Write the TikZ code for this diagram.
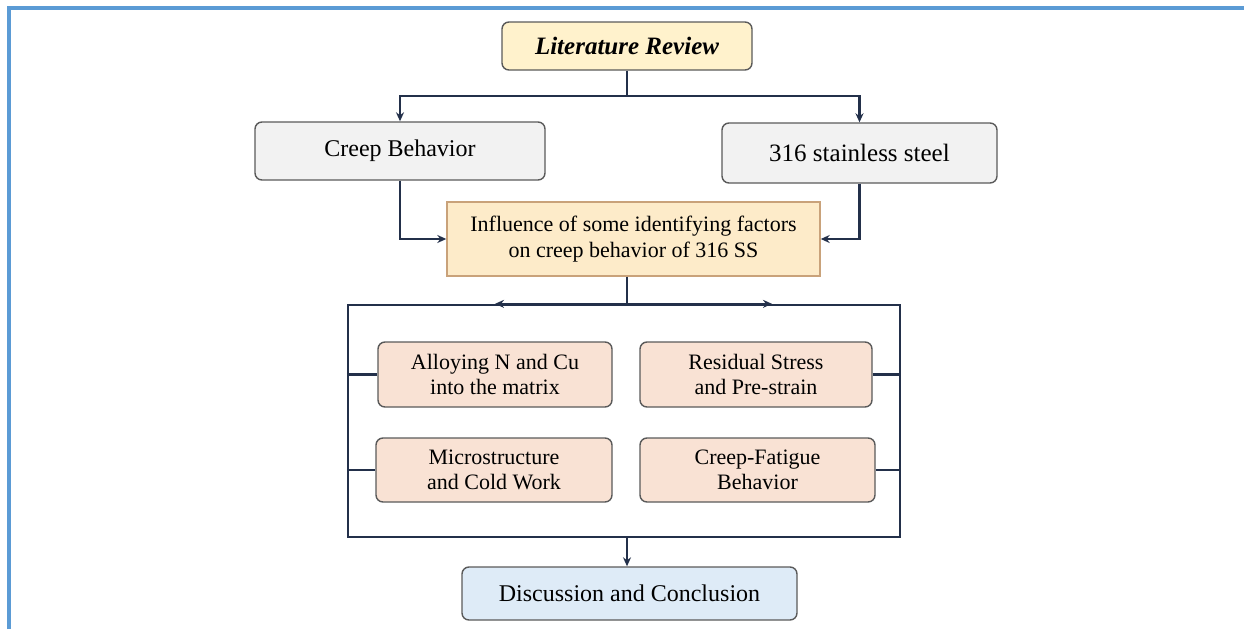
\documentclass[tikz,border=0pt]{standalone}
\usepackage{fontspec}
\setmainfont{Liberation Serif}
\usetikzlibrary{arrows.meta}
\definecolor{frameblue}{HTML}{5B9BD5}
\definecolor{linec}{HTML}{23304A}
\definecolor{lrfill}{HTML}{FFF2CC}
\definecolor{grayfill}{HTML}{F2F2F2}
\definecolor{inffill}{HTML}{FDEBC9}
\definecolor{infdraw}{HTML}{C9A27A}
\definecolor{peach}{HTML}{F9E2D4}
\definecolor{bluefill}{HTML}{DEEBF7}
\definecolor{boxdraw}{HTML}{5A5A5A}
\begin{document}
\begin{tikzpicture}[x=1pt,y=-1pt,
  base/.style={draw=boxdraw, line width=1.4pt, align=center, inner sep=0pt},
  rbox/.style={base, rounded corners=7pt},
  arr/.style={draw=linec, line width=2.3pt, -{Stealth[length=9pt,width=8pt]}},
  ln/.style={draw=linec, line width=2.3pt},
  txt/.style={font=\fontsize{22}{25.5}\selectfont}
]
\useasboundingbox (0,0) rectangle (1244,629);
% outer blue frame (top and left edges)
\draw[frameblue, line width=4pt] (9,629) -- (9,8) -- (1244,8);

\coordinate (spine) at (627,0);
\coordinate (la) at (495,0);
\coordinate (ra) at (772,0);

\node[rbox, fill=lrfill, minimum width=250pt, minimum height=48pt,
      font=\fontsize{25}{28}\selectfont\bfseries\itshape] (lr) at (627,46) {Literature Review};
\node[rbox, fill=grayfill, minimum width=290pt, minimum height=58pt,
      font=\fontsize{24}{28}\selectfont] (cb) at (400,151) {Creep Behavior};
\node[rbox, fill=grayfill, minimum width=275pt, minimum height=60pt,
      font=\fontsize{25}{28}\selectfont] (ss) at (859.5,153) {316 stainless steel};
\node[base, draw=infdraw, fill=inffill, minimum width=373pt, minimum height=74pt, txt] (inf) at (633.5,239)
      {Influence of some identifying factors\\on creep behavior of 316 SS};

\node[draw=linec, line width=2.3pt, minimum width=552pt, minimum height=232pt, inner sep=0pt] (frame) at (624,421) {};

\node[rbox, fill=peach, minimum width=234pt, minimum height=65pt, txt] (al) at (495,374.5) {Alloying N and Cu\\into the matrix};
\node[rbox, fill=peach, minimum width=232pt, minimum height=65pt, txt] (rs) at (756,374.5) {Residual Stress\\and Pre-strain};
\node[rbox, fill=peach, minimum width=236pt, minimum height=64pt, txt] (mc) at (494,470) {Microstructure\\and Cold Work};
\node[rbox, fill=peach, minimum width=235pt, minimum height=64pt, txt] (cf) at (757.5,470) {Creep-Fatigue\\Behavior};

\node[rbox, fill=bluefill, minimum width=335pt, minimum height=53pt,
      font=\fontsize{24}{28}\selectfont] (dc) at (629.5,593.5) {Discussion and Conclusion};

% connectors
\draw[ln] (lr.south) -- ++(0,25) coordinate (j1);
\draw[arr] (j1) -| (cb.north);
\draw[arr] (j1) -| (ss.north);
\draw[arr] (cb.south) |- (inf.west);
\draw[arr] (ss.south) |- (inf.east);
\draw[ln] (inf.south -| spine) -- (frame.north -| spine);
\draw[arr] (frame.north -| spine) -- (frame.north -| la);
\draw[arr] (frame.north -| spine) -- (frame.north -| ra);
\draw[ln] (frame.west |- al.west) -- (al.west);
\draw[ln] (frame.west |- mc.west) -- (mc.west);
\draw[ln] (rs.east) -- (frame.east |- rs.east);
\draw[ln] (cf.east) -- (frame.east |- cf.east);
\draw[arr] (frame.south -| spine) -- (dc.north -| spine);
\end{tikzpicture}
\end{document}
